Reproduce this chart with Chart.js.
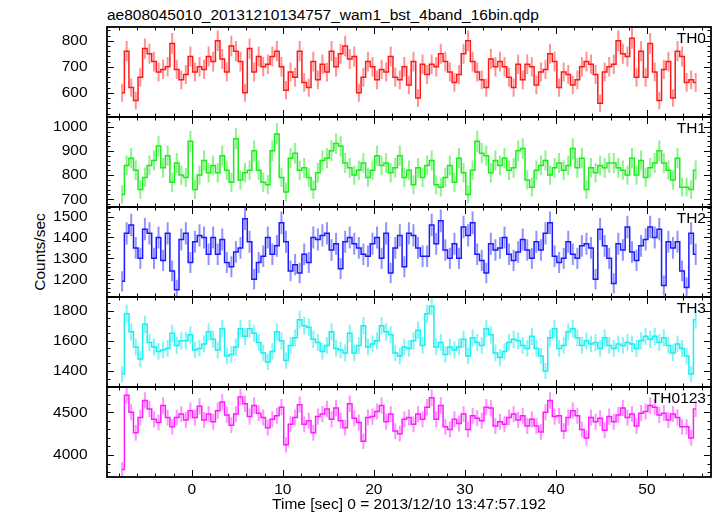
<!DOCTYPE html>
<html>
<head>
<meta charset="utf-8">
<script src="https://cdn.jsdelivr.net/npm/chart.js"></script>
<style>
  html, body { margin: 0; padding: 0; background: #fff; }
  body { position: relative; width: 717px; height: 516px; overflow: hidden; font-family: "Liberation Sans", Arial, sans-serif; color: #000; }
  .panel { position: absolute; left: 0; }
  #title { position: absolute; left: 107px; top: 7px; font-size: 15.5px; line-height: 1; white-space: nowrap; }
  #ylabel { position: absolute; left: 40px; top: 252px; font-size: 15.5px; line-height: 1; white-space: nowrap; transform: translate(-50%, -50%) rotate(-90deg); }
  .band-name { position: absolute; right: 11px; font-size: 15.5px; line-height: 1; }
</style>
</head>
<body>
<div id="title">ae808045010_20131210134757_wam1_bst_4band_16bin.qdp</div>
<div id="ylabel">Counts/sec</div>
<script>
// light curve, 0.5 s bins starting at binStart (sec)
const bandNames = ['TH0', 'TH1', 'TH2', 'TH3', 'TH0123'];
const binStart = -7.9;
const binWidth = 0.5;

const th0Rate = [
  600, 760, 620, 570, 660, 770, 750, 720, 680, 690,
  700, 790, 690, 650, 670, 740, 680, 700, 690, 740,
  720, 800, 730, 680, 780, 760, 720, 600, 770, 680,
  740, 700, 710, 740, 760, 700, 610, 680, 660,
  760, 640, 620, 720, 650, 710, 680, 760, 700, 750,
  780, 730, 740, 600, 660, 720, 700, 650, 690, 680,
  740, 660, 650, 700, 630, 720, 580, 710, 670, 710,
  700, 750, 720, 680, 640, 670, 750, 800, 720, 680,
  650, 620, 730, 700,
  720, 700, 660, 620, 710, 650, 710, 700, 630, 680,
  690, 750, 720, 620, 680, 670, 630, 650, 700, 720,
  710, 670, 560, 680, 700, 710, 800, 750, 740, 810,
  660, 760, 660, 790, 680, 570, 690, 720, 580, 760,
  740, 640, 650, 640
];
const th1Rate = [
  720, 840, 870, 820, 740, 790, 840, 860, 920, 830,
  880, 770, 850, 800, 790, 940, 740, 800, 860, 810,
  840, 810, 880, 820, 770, 950, 780, 810, 820, 900,
  820, 770, 760, 900, 970, 790, 730, 870, 890,
  820, 830, 790, 740, 810, 860, 870, 900, 930, 920,
  850, 830, 800, 820, 850, 790, 820, 880, 840, 850,
  810, 830, 880, 790, 820, 760, 830, 790, 840, 860,
  760, 750, 790, 840, 770, 870, 810, 720, 820, 940,
  890, 880, 810, 860, 840, 870, 820, 830, 900, 910,
  780, 750, 820, 840, 860, 800, 830, 850, 820, 840,
  910, 830, 870, 740, 830, 810, 840, 830, 850, 850,
  830, 820, 800, 870, 800, 860, 790, 830, 850, 900,
  850, 820, 780, 870, 750, 750, 740, 820
];
const th2Rate = [
  1190, 1420, 1460, 1350, 1300, 1440, 1420, 1300, 1400, 1290,
  1420, 1240, 1150, 1390, 1420, 1280, 1380, 1410, 1400, 1320,
  1400, 1320, 1390, 1280, 1260, 1330, 1350, 1490, 1380, 1200,
  1280, 1310, 1400, 1320, 1360, 1470, 1380, 1240, 1270, 1230,
  1320, 1280, 1400, 1390, 1410, 1420, 1340, 1370, 1250, 1380,
  1400, 1370, 1350, 1320, 1310, 1370, 1400, 1300, 1420, 1230,
  1350, 1410, 1260, 1420, 1410, 1350, 1310, 1310, 1460, 1370,
  1480, 1340, 1300, 1370, 1300, 1450, 1410, 1470, 1320, 1290,
  1230, 1370, 1340, 1350, 1400, 1320, 1290, 1330, 1390, 1340,
  1300, 1380, 1340, 1420, 1470, 1310, 1280, 1300, 1380, 1320,
  1300, 1360, 1370, 1350, 1200, 1440, 1360, 1300, 1180, 1370,
  1340, 1450, 1330, 1290, 1360, 1390, 1450, 1400, 1440, 1170,
  1380, 1350, 1380, 1240, 1160, 1420, 1320
];
const th3Rate = [
  1380, 1780, 1660, 1560, 1480, 1710, 1590, 1560, 1530, 1540,
  1550, 1650, 1570, 1600, 1600, 1640, 1540, 1550, 1580, 1660,
  1610, 1540, 1680, 1500, 1510, 1560, 1680, 1630, 1680, 1650,
  1590, 1520, 1460, 1530, 1660, 1600, 1470, 1570, 1620, 1740,
  1700, 1690, 1610, 1590, 1530, 1570, 1660, 1550, 1540, 1520,
  1650, 1520, 1570, 1700, 1560, 1580, 1600, 1700, 1660, 1640,
  1520, 1500, 1560, 1550, 1600, 1670, 1570, 1780, 1830, 1560,
  1590, 1510, 1560, 1540, 1560, 1610, 1500, 1620, 1590, 1570,
  1680, 1640, 1520, 1490, 1530, 1590, 1610, 1600, 1570, 1550,
  1630, 1550, 1500, 1400, 1620, 1680, 1550, 1570, 1660, 1680,
  1620, 1570, 1600, 1580, 1590, 1550, 1620, 1570, 1550, 1580,
  1570, 1590, 1580, 1550, 1600, 1630, 1610, 1630, 1590, 1620,
  1570, 1520, 1580, 1550, 1500, 1380, 1740
];
const th0123Rate = [
  3830, 4700, 4500, 4260, 4440, 4640, 4540, 4420, 4380, 4580,
  4440, 4330, 4440, 4480, 4410, 4520, 4440, 4570, 4410, 4480,
  4390, 4520, 4620, 4470, 4350, 4480, 4680, 4600, 4450, 4580,
  4490, 4440, 4320, 4420, 4460, 4560, 4120, 4360, 4440, 4590,
  4360, 4400, 4260, 4450, 4480, 4540, 4420, 4550, 4400, 4320,
  4600, 4430, 4380, 4160, 4440, 4450, 4510, 4580, 4390, 4480,
  4280, 4250, 4420, 4440, 4360, 4480, 4420, 4560, 4670, 4420,
  4580, 4330, 4300, 4420, 4370, 4480, 4300, 4460, 4430, 4400,
  4560, 4550, 4340, 4390, 4360, 4440, 4480, 4410, 4460, 4340,
  4420, 4340, 4270, 4500, 4640, 4450, 4460, 4280, 4440, 4520,
  4460, 4300, 4200, 4440, 4390, 4430, 4290, 4450, 4390, 4470,
  4550, 4440, 4480, 4340, 4490, 4510, 4580, 4560, 4470, 4490,
  4410, 4480, 4440, 4330, 4330, 4200, 4540
];
const bandRates = [th0Rate, th1Rate, th2Rate, th3Rate, th0123Rate];

// axes
const xMin = -9.31;
const xMax = 57.03;
const xTicks = [0, 10, 20, 30, 40, 50];
const xMinorStep = 2;
const yMin = [507, 668, 1115, 1294, 3742];
const yMax = [853, 1040, 1546, 1891, 4797];
const yTicks = [
  [600, 700, 800],
  [700, 800, 900, 1000],
  [1200, 1300, 1400, 1500],
  [1400, 1600, 1800],
  [4000, 4500]
];
const yMinorStep = [20, 20, 20, 50, 100];

const lineColors = ['#ff1a1a', '#1aee1a', '#1a1aff', '#1aeeee', '#ff1aff'];
const errColors = ['rgba(255,40,40,0.5)', 'rgba(30,230,30,0.5)', 'rgba(40,40,255,0.5)', 'rgba(30,235,235,0.55)', 'rgba(255,40,255,0.5)'];

const font = { family: '"Liberation Sans", Arial, sans-serif', size: 15.5 };
const panelTop = 27;
const panelHeight = 90;
const pad = 10;
const axisWidth = 107;
const xAxisHeight = 39;

// error bars behind the steps, frame and inward ticks on top
const qdpPlugin = {
    id: 'qdp',
    beforeDatasetsDraw(chart, args, opts) {
        const { ctx, chartArea: a } = chart;
        const xs = chart.scales.x, ys = chart.scales.y;
        ctx.save();
        ctx.beginPath();
        ctx.rect(a.left, a.top, a.right - a.left, a.bottom - a.top);
        ctx.clip();
        ctx.strokeStyle = errColors[opts.band];
        ctx.lineWidth = 2;
        ctx.beginPath();
        chart.data.datasets[0].data.forEach(p => {
            const px = xs.getPixelForValue(p.x);
            ctx.moveTo(px, ys.getPixelForValue(p.y - p.err));
            ctx.lineTo(px, ys.getPixelForValue(p.y + p.err));
        });
        ctx.stroke();
        ctx.restore();
    },
    afterDatasetsDraw(chart, args, opts) {
        const { ctx, chartArea: a } = chart;
        const xs = chart.scales.x, ys = chart.scales.y;
        ctx.save();
        ctx.strokeStyle = '#000';
        ctx.lineWidth = 1;
        ctx.beginPath();
        for (let n = Math.ceil(xs.min / xMinorStep); n * xMinorStep <= xs.max; n++) {
            const v = n * xMinorStep;
            const len = v % 10 === 0 ? 7 : 3.5;
            const px = Math.round(xs.getPixelForValue(v)) + 0.5;
            ctx.moveTo(px, a.bottom); ctx.lineTo(px, a.bottom - len);
            ctx.moveTo(px, a.top); ctx.lineTo(px, a.top + len);
        }
        const step = yMinorStep[opts.band];
        for (let n = Math.ceil(ys.min / step); n * step <= ys.max; n++) {
            const v = n * step;
            const len = yTicks[opts.band].includes(v) ? 7 : 3.5;
            const py = Math.round(ys.getPixelForValue(v)) + 0.5;
            ctx.moveTo(a.left, py); ctx.lineTo(a.left + len, py);
            ctx.moveTo(a.right, py); ctx.lineTo(a.right - len, py);
        }
        ctx.stroke();
        ctx.lineWidth = 1.8;
        ctx.strokeRect(a.left, a.top, a.right - a.left, a.bottom - a.top);
        ctx.restore();
    }
};

function makePanel(k) {
    const last = k === bandNames.length - 1;
    const top = panelTop + k * panelHeight;

    const wrap = document.createElement('div');
    wrap.className = 'panel';
    wrap.style.top = (top - pad) + 'px';
    const canvas = document.createElement('canvas');
    canvas.width = 717;
    canvas.height = last ? panelHeight + pad + xAxisHeight : panelHeight + 2 * pad;
    wrap.appendChild(canvas);
    document.body.appendChild(wrap);

    const name = document.createElement('div');
    name.className = 'band-name';
    name.style.top = (top + 2.5) + 'px';
    name.textContent = bandNames[k];
    document.body.appendChild(name);

    const points = bandRates[k].map((v, i) => ({
        x: binStart + (i + 0.5) * binWidth,
        y: v,
        err: Math.sqrt(v / binWidth)
    }));

    const xScale = last ? {
        type: 'linear', min: xMin, max: xMax,
        grid: { display: false, drawTicks: false },
        border: { display: false },
        afterBuildTicks: s => { s.ticks = xTicks.map(v => ({ value: v })); },
        afterFit: s => { s.height = xAxisHeight; s.paddingLeft = 0; s.paddingRight = 0; },
        ticks: { font, color: '#000', padding: 3, maxRotation: 0, autoSkip: false },
        title: { display: true, text: 'Time [sec] 0 = 2013/12/10 13:47:57.192', font, color: '#000', padding: { top: 0, bottom: 1.5 } }
    } : { type: 'linear', min: xMin, max: xMax, display: false };

    new Chart(canvas, {
        type: 'line',
        data: {
            datasets: [{
                data: points,
                borderColor: lineColors[k],
                borderWidth: 1.5,
                pointRadius: 0,
                stepped: 'middle',
                fill: false
            }]
        },
        options: {
            responsive: false,
            animation: false,
            events: [],
            layout: { padding: { left: 0, right: 6, top: pad, bottom: last ? 0 : pad } },
            plugins: {
                legend: { display: false },
                tooltip: { enabled: false },
                qdp: { band: k }
            },
            scales: {
                x: xScale,
                y: {
                    type: 'linear', min: yMin[k], max: yMax[k],
                    grid: { display: false, drawTicks: false },
                    border: { display: false },
                    afterBuildTicks: s => { s.ticks = yTicks[k].map(v => ({ value: v })); },
                    afterFit: s => { s.width = axisWidth; s.paddingTop = 0; s.paddingBottom = 0; },
                    ticks: { font, color: '#000', padding: 19.5, autoSkip: false, callback: v => String(v) }
                }
            }
        },
        plugins: [qdpPlugin]
    });
}

bandNames.forEach((n, k) => makePanel(k));
</script>
</body>
</html>
